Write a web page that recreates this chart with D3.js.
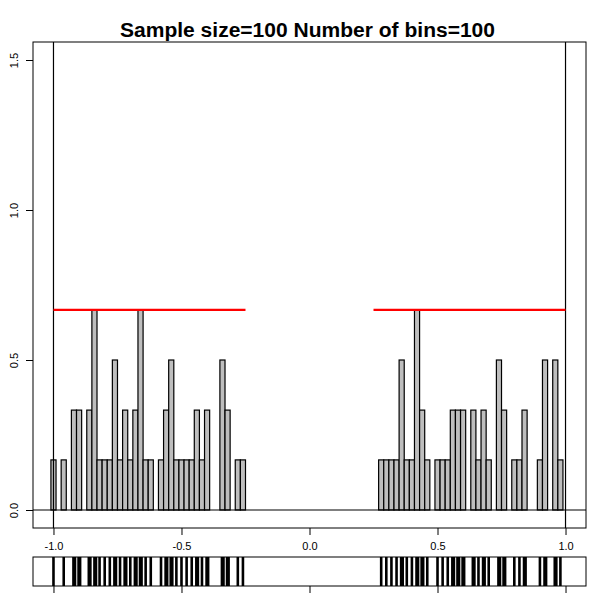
<!DOCTYPE html>
<html>
<head>
<meta charset="utf-8">
<script src="https://cdn.jsdelivr.net/npm/d3@7"></script>
<style>
  html, body { margin: 0; padding: 0; background: #fff; }
  svg { display: block; font-family: "Liberation Sans", Arial, sans-serif; }
</style>
</head>
<body>
<svg id="chart" width="600" height="600"></svg>
<script>
// ---- data ----
const title = "Sample size=100 Number of bins=100";
const breaksRange = [-1.01, 0.99];           // histogram break range (100 bins)
const density = [                            // bar heights (density), bins 0..99
  0.167,0,0.167,0,0.333,0.333,0,0.333,0.667,0.167,
  0.167,0.167,0.5,0.167,0.333,0.167,0.333,0.667,0.167,0.167,
  0,0.167,0.333,0.5,0.167,0.167,0.167,0.167,0.333,0.167,
  0.333,0,0,0.5,0.333,0,0.167,0.167,0,0,
  0,0,0,0,0,0,0,0,0,0,
  0,0,0,0,0,0,0,0,0,0,
  0,0,0,0,0.167,0.167,0.167,0.167,0.5,0.167,
  0.167,0.667,0.333,0.167,0,0.167,0.167,0.167,0.333,0.333,
  0.333,0,0.333,0.167,0.333,0.167,0,0.5,0.333,0,
  0.167,0.167,0.333,0,0,0.167,0.5,0,0.5,0.167
];
const trueDensity = [                        // red reference density segments
  { from: -1.0, to: -0.25, value: 0.667 },
  { from: 0.25, to: 1.0, value: 0.667 }
];
const verticalLines = [-1, 1];
const rugValues = [
  -1.0,-0.96,-0.922,-0.916,-0.902,-0.896,-0.862,-0.856,-0.84,-0.834,-0.82,-0.80,-0.78,-0.762,-0.756,-0.74,
  -0.722,-0.716,-0.70,-0.682,-0.676,-0.662,-0.656,-0.64,-0.62,-0.58,-0.562,-0.556,-0.542,-0.536,-0.52,
  -0.50,-0.48,-0.46,-0.442,-0.436,-0.42,-0.402,-0.396,-0.342,-0.336,-0.322,-0.316,-0.28,-0.26,
  0.28,0.30,0.32,0.34,0.358,0.364,0.38,0.40,0.418,0.424,0.438,0.444,0.46,0.50,0.52,0.54,
  0.558,0.564,0.578,0.584,0.598,0.604,0.638,0.644,0.66,0.678,0.684,0.70,0.738,0.744,0.758,0.764,
  0.80,0.82,0.838,0.844,0.90,0.918,0.924,0.958,0.964,0.98
];
const xTicks = [-1.0, -0.5, 0.0, 0.5, 1.0];
const yTicks = [0.0, 0.5, 1.0, 1.5];
const xDomain = [-1, 1];
const yDomain = [0, 1.5];

// ---- layout ----
const svg = d3.select("#chart");
const frame = { left: 33, right: 586, top: 42, bottom: 528 };
const rugBox = { top: 557, bottom: 586 };

// R-style 4% extension of the axis ranges
const xExt = (xDomain[1] - xDomain[0]) * 0.04;
const yExt = (yDomain[1] - yDomain[0]) * 0.04;
const x = d3.scaleLinear().domain([xDomain[0] - xExt, xDomain[1] + xExt]).range([frame.left, frame.right]);
const y = d3.scaleLinear().domain([yDomain[0] - yExt, yDomain[1] + yExt]).range([frame.bottom, frame.top]);

// bins
const nb = density.length;
const bw = (breaksRange[1] - breaksRange[0]) / nb;
const bins = density.map((d, i) => ({ x0: breaksRange[0] + i * bw, x1: breaksRange[0] + (i + 1) * bw, d }))
  .filter(b => b.d > 0);

svg.append("rect").attr("width", 600).attr("height", 600).attr("fill", "#fff");

// bars
svg.append("g").selectAll("rect").data(bins).join("rect")
  .attr("x", b => x(b.x0))
  .attr("y", b => y(b.d))
  .attr("width", b => x(b.x1) - x(b.x0))
  .attr("height", b => y(0) - y(b.d))
  .attr("fill", "#bebebe")
  .attr("stroke", "#000")
  .attr("stroke-width", 1.2);

// h = 0 line
svg.append("line")
  .attr("x1", frame.left).attr("x2", frame.right)
  .attr("y1", y(0)).attr("y2", y(0))
  .attr("stroke", "#000").attr("stroke-width", 1.2);

// vertical lines at -1, 1
svg.append("g").selectAll("line").data(verticalLines).join("line")
  .attr("x1", d => x(d)).attr("x2", d => x(d))
  .attr("y1", frame.top).attr("y2", frame.bottom)
  .attr("stroke", "#000").attr("stroke-width", 1.2);

// red true density
svg.append("g").selectAll("line").data(trueDensity).join("line")
  .attr("x1", d => x(d.from)).attr("x2", d => x(d.to))
  .attr("y1", d => y(d.value)).attr("y2", d => y(d.value))
  .attr("stroke", "#ff0000").attr("stroke-width", 2.2);

// frame
svg.append("rect")
  .attr("x", frame.left).attr("y", frame.top)
  .attr("width", frame.right - frame.left).attr("height", frame.bottom - frame.top)
  .attr("fill", "none").attr("stroke", "#000").attr("stroke-width", 1);

// x axis (main)
const xAxis = d3.axisBottom(x).tickValues(xTicks).tickSize(7).tickPadding(7)
  .tickFormat(d3.format(".1f"));
const gx = svg.append("g").attr("transform", `translate(0,${frame.bottom})`).call(xAxis);
gx.select(".domain").remove();
gx.selectAll(".tick line").attr("stroke", "#000");
gx.selectAll(".tick text").attr("fill", "#000").attr("font-size", 11)
  .text(d => d3.format(".1f")(d).replace("−", "-"));

// y axis
const yAxis = d3.axisLeft(y).tickValues(yTicks).tickSize(7).tickFormat(d3.format(".1f"));
const gy = svg.append("g").attr("transform", `translate(${frame.left},0)`).call(yAxis);
gy.select(".domain").remove();
gy.selectAll(".tick line").attr("stroke", "#000");
gy.selectAll(".tick text")
  .attr("fill", "#000").attr("font-size", 11)
  .attr("x", 0).attr("dy", 0)
  .attr("text-anchor", "middle")
  .attr("transform", "translate(-15,0) rotate(-90)");

// title
svg.append("text")
  .attr("x", 307.5)
  .attr("y", 36.5)
  .attr("text-anchor", "middle")
  .attr("font-size", 20)
  .attr("font-weight", "bold")
  .attr("fill", "#000")
  .attr("textLength", 375)
  .attr("lengthAdjust", "spacingAndGlyphs")
  .text(title);

// rug panel
svg.append("g").selectAll("line").data(rugValues).join("line")
  .attr("x1", d => x(d)).attr("x2", d => x(d))
  .attr("y1", rugBox.top).attr("y2", rugBox.bottom)
  .attr("stroke", "#000").attr("stroke-width", 2.6);

svg.append("rect")
  .attr("x", frame.left).attr("y", rugBox.top)
  .attr("width", frame.right - frame.left).attr("height", rugBox.bottom - rugBox.top)
  .attr("fill", "none").attr("stroke", "#000").attr("stroke-width", 1);

const rugAxis = d3.axisBottom(x).tickValues(xTicks).tickSize(7).tickFormat("");
const gr = svg.append("g").attr("transform", `translate(0,${rugBox.bottom})`).call(rugAxis);
gr.select(".domain").remove();
gr.selectAll(".tick line").attr("stroke", "#000");
</script>
</body>
</html>
